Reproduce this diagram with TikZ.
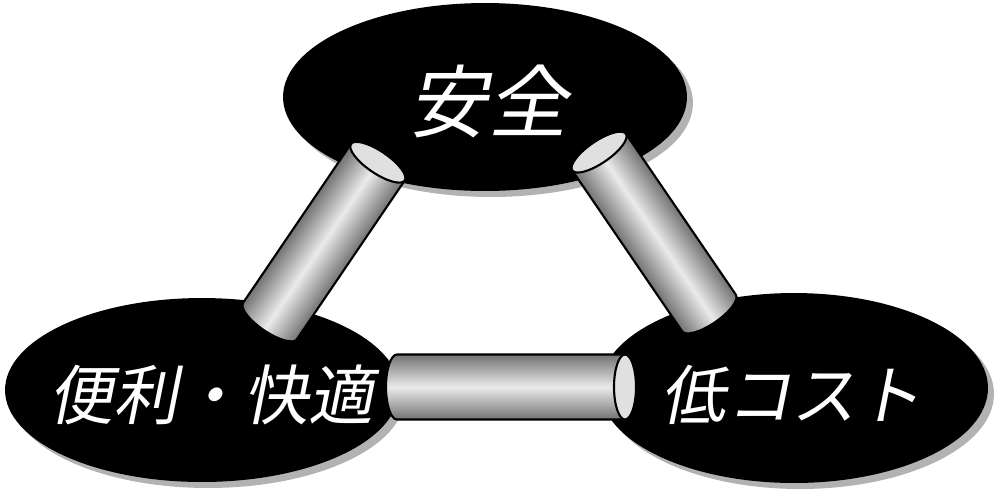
\documentclass[tikz,border=0pt]{standalone}
\usepackage{fontspec}
\newfontfamily\jpfont[FakeSlant=0.2]{Noto Sans CJK JP}
\usetikzlibrary{calc,shapes.geometric,shadows}

\tikzset{
  goal/.style={
    ellipse,
    fill=black,
    inner sep=0pt,
    drop shadow={shadow xshift=0.12cm, shadow yshift=-0.12cm, fill=black!30, opacity=1}},
  goaltext/.style={
    text=white,
    inner sep=0pt,
    font=\jpfont\fontsize{37}{40}\selectfont},
  tubebody/.style={draw=black, line width=1.2pt,
    top color=black!55, bottom color=black!55, middle color=black!8},
  tubecap/.style={draw=black, line width=1.2pt, fill=black!12},
}

% tube from #1 to #2, the open end sits at #2
\newcommand{\tube}[2]{%
  \path (#1); \pgfgetlastxy{\ax}{\ay}
  \path (#2); \pgfgetlastxy{\bx}{\by}
  \pgfmathsetmacro{\tubeang}{atan2(\by-\ay,\bx-\ax)}
  \pgfmathsetmacro{\tubelen}{veclen(\bx-\ax,\by-\ay)}
  \begin{scope}[transform canvas={shift={(#1)},rotate=\tubeang}]
    \shade[tubebody] (\tubelen pt,0.65cm) -- (0,0.65cm)
      arc[start angle=90, end angle=270, x radius=0.22cm, y radius=0.65cm]
      -- (\tubelen pt,-0.65cm) -- cycle;
    \draw[tubecap] (\tubelen pt,0) ellipse[x radius=0.22cm, y radius=0.65cm];
  \end{scope}
}

\begin{document}
\begin{tikzpicture}[x=0.02cm, y=-0.02cm]
  \useasboundingbox (0,0) rectangle (999,495);

  \node[goal, minimum width=8.08cm, minimum height=3.76cm] (safety) at (485,97) {};
  \node[goal, minimum width=7.88cm, minimum height=3.68cm] (comfort) at (202,390) {};
  \node[goal, minimum width=7.76cm, minimum height=3.8cm] (cost) at (794,388) {};

  \node[goaltext, font=\jpfont\fontsize{45}{50}\selectfont] (safety-text) at (488,101) {安全};
  \node[goaltext] (comfort-text) at (211,395) {便利・快適};
  \node[goaltext] (cost-text) at (791,395) {低コスト};

  % tube ends
  \coordinate (left-low) at (270,321);
  \coordinate (left-up) at (378,162);
  \coordinate (right-low) at (709,313);
  \coordinate (right-up) at (599,152);
  \coordinate (base-left) at (397,387);
  \coordinate (base-right) at (625,387);

  \tube{left-low}{left-up}
  \tube{right-low}{right-up}
  \tube{base-left}{base-right}
\end{tikzpicture}
\end{document}
